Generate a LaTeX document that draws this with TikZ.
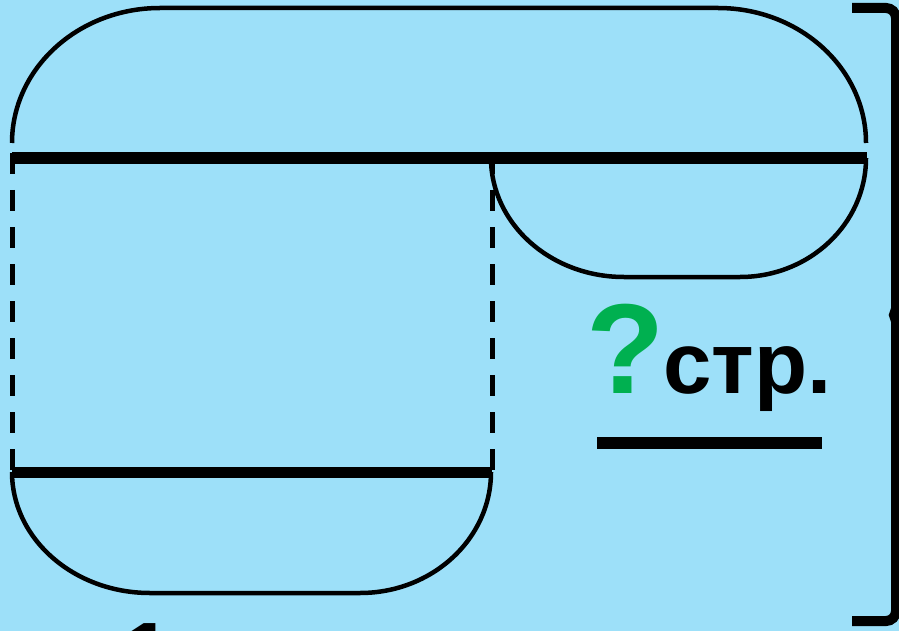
\documentclass[tikz,border=0pt]{standalone}
\usepackage{fontspec}
\setmainfont{Liberation Sans}
\definecolor{bgblue}{RGB}{157,224,249}
\definecolor{qgreen}{RGB}{0,176,80}
\begin{document}
\begin{tikzpicture}[x=1pt,y=1pt,
  outline/.style={line width=4.5pt,black},
  thickbar/.style={line width=11pt,black},
  dashline/.style={line width=5pt,black,dash pattern=on 21pt off 16pt},
  lbl/.style={inner sep=0pt,outer sep=0pt,font=\bfseries}]
\useasboundingbox (0,0) rectangle (899,-631);
\fill[bgblue] (0,0) rectangle (899,-631);
\begin{scope}
\clip (0,0) rectangle (899,-631);
% top shape
\draw[outline] (12,-143) arc[start angle=180,end angle=90,x radius=148pt,y radius=135pt]
  -- (718,-8) arc[start angle=90,end angle=0,x radius=148pt,y radius=135pt];
\draw[line width=12pt] (12,-158) -- (867,-158);
% dashed verticals
\draw[dashline] (12,-153) -- (12,-472);
\draw[dashline] (492,-153) -- (492,-472);
% right small shape
\draw[outline] (491,-158) arc[start angle=180,end angle=270,x radius=133pt,y radius=119pt]
  -- (740,-277) arc[start angle=270,end angle=360,x radius=126pt,y radius=119pt];
% bottom shape
\draw[thickbar] (12,-472) -- (492,-472);
\draw[outline] (12,-472) arc[start angle=180,end angle=270,x radius=138pt,y radius=121pt]
  -- (360,-593) arc[start angle=270,end angle=360,x radius=131pt,y radius=121pt];
% brace
\draw[line width=10pt,line join=miter] (852,-8) -- (886,-8) arc[start angle=90,end angle=0,radius=10pt]
  -- (896,-309) -- (894,-315) -- (896,-321) -- (896,-611)
  arc[start angle=0,end angle=-90,radius=10pt] -- (852,-621);
% text
\node[lbl,text=qgreen,font=\bfseries\fontsize{128}{128}\selectfont,anchor=base west] (q) at (586,-393) {?};
\node[lbl,font=\bfseries\fontsize{87}{87}\selectfont,anchor=base west] (s) at (663,-393) {стр.};
\coordinate (ul) at (597,-443);
\coordinate (ur) at (822,-443);
\draw[line width=12pt] (ul) -- (ur);
\node[lbl,font=\bfseries\fontsize{90}{90}\selectfont,anchor=base west] (one) at (122,-685) {1};
\end{scope}
\end{tikzpicture}
\end{document}
